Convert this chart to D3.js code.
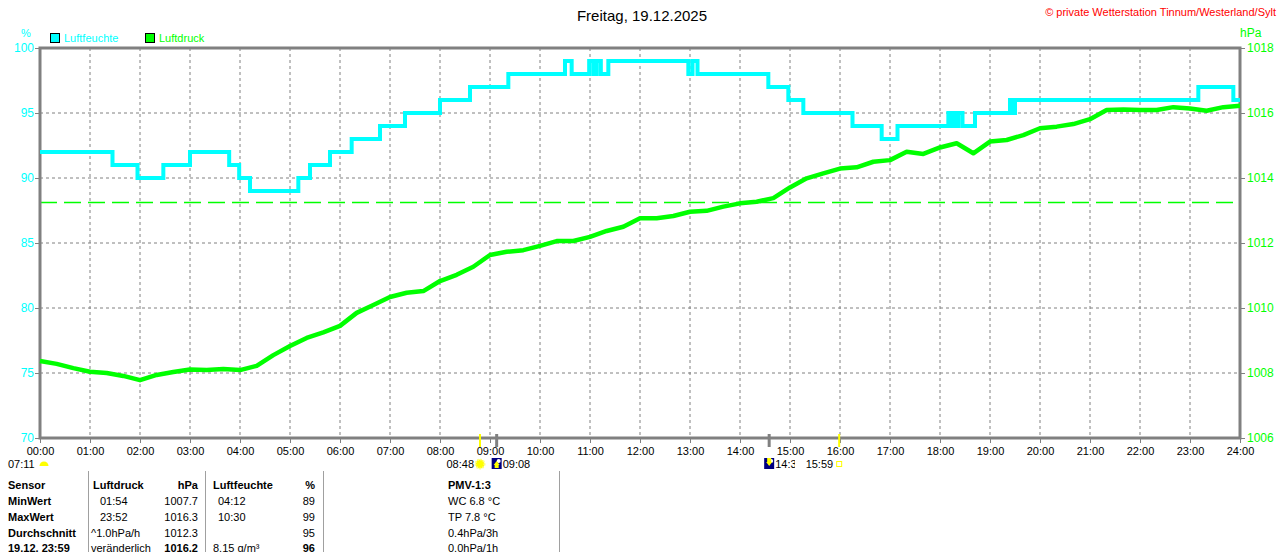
<!DOCTYPE html>
<html>
<head>
<meta charset="utf-8">
<script src="https://cdn.jsdelivr.net/npm/d3@7"></script>
<style>
  body { margin: 0; background: #fff; }
  svg { display: block; font-family: "Liberation Sans", Arial, sans-serif; }
  .grid line { stroke: #808080; stroke-dasharray: 3,3; }
  .axis path, .axis line { stroke: #808080; }
  .axis text { font-size: 12px; }
  .xAxis text { fill: #000; font-size: 11px; }
  .tbl { font-size: 11px; fill: #000; }
  .b { font-weight: bold; }
</style>
</head>
<body>
<div id="chart"></div>
<script>
// Luftfeuchte (%), step changes: [minute of day, value]
var humSteps = [
  [0, 92], [87, 91], [117, 90], [148, 91], [180, 92], [227, 91], [239, 90],
  [252, 89], [310, 90], [324, 91], [348, 92], [374, 93], [408, 94], [438, 95],
  [480, 96], [516, 97], [562, 98], [630, 99], [638, 98], [659, 99], [664, 98],
  [668, 99], [673, 98], [682, 99], [778, 98], [783, 99], [789, 98], [874, 97],
  [898, 96], [916, 95], [975, 94], [1010, 93], [1029, 94], [1090, 95], [1093, 94],
  [1096, 95], [1099, 94], [1102, 95], [1107, 94], [1122, 95], [1164, 96],
  [1167, 95], [1170, 96], [1390, 97], [1432, 96], [1440, 96]
];

// Luftdruck (hPa), one value every 20 minutes from 00:00 to 24:00
var pressStep = 20;
var pressure = [
  1008.37, 1008.28, 1008.15, 1008.04, 1008.00, 1007.91, 1007.78, 1007.94, 1008.03,
  1008.11, 1008.09, 1008.12, 1008.09, 1008.22, 1008.55, 1008.83, 1009.08, 1009.25,
  1009.45, 1009.85, 1010.09, 1010.34, 1010.47, 1010.52, 1010.83, 1011.02, 1011.27,
  1011.63, 1011.73, 1011.78, 1011.91, 1012.06, 1012.06, 1012.19, 1012.37, 1012.50,
  1012.76, 1012.76, 1012.83, 1012.96, 1012.99, 1013.12, 1013.22, 1013.27, 1013.38,
  1013.71, 1013.99, 1014.14, 1014.29, 1014.33, 1014.50, 1014.55, 1014.81, 1014.74,
  1014.94, 1015.07, 1014.76, 1015.12, 1015.17, 1015.32, 1015.53, 1015.58, 1015.66,
  1015.81, 1016.09, 1016.11, 1016.09, 1016.09, 1016.18, 1016.14, 1016.07, 1016.18,
  1016.22
];
var normPressure = 1013.25;

var xTicks = d3.range(0, 25);
var humTicks = [70, 75, 80, 85, 90, 95, 100];
var pressTicks = [1006, 1008, 1010, 1012, 1014, 1016, 1018];

// markers below the time axis: [minute, label, kind]
var sunMarks = [[528, "08:48", "sun"], [959, "15:59", "sunset"]];
var moonMarks = [[548, "09:08", "rise"], [875, "14:35", "set"]];

var tableRows = [
  ["Sensor", "Luftdruck", "hPa", "Luftfeuchte", "%"],
  ["MinWert", "01:54", "1007.7", "04:12", "89"],
  ["MaxWert", "23:52", "1016.3", "10:30", "99"],
  ["Durchschnitt", "^1.0hPa/h", "1012.3", "", "95"],
  ["19.12. 23:59", "veränderlich", "1016.2", "8.15 g/m³", "96"]
];
var pmvRows = ["PMV-1:3", "WC 6.8 °C", "TP 7.8 °C", "0.4hPa/3h", "0.0hPa/1h"];

var width = 1280, height = 552;
var plotLeft = 40, plotRight = 1240, plotTop = 48, plotBottom = 438;

var svg = d3.select("#chart").append("svg")
  .attr("width", width).attr("height", height);

var xScale = d3.scaleLinear().domain([0, 1440]).range([plotLeft, plotRight]);
var yHum = d3.scaleLinear().domain([70, 100]).range([plotBottom, plotTop]);
var yPress = d3.scaleLinear().domain([1006, 1018]).range([plotBottom, plotTop]);

// grid
var grid = svg.append("g").attr("class", "grid");
grid.selectAll("line.v").data(xTicks.slice(1, -1)).enter().append("line")
  .attr("x1", function(d) { return xScale(d * 60); })
  .attr("x2", function(d) { return xScale(d * 60); })
  .attr("y1", plotTop).attr("y2", plotBottom);
grid.selectAll("line.h").data(humTicks.slice(1, -1)).enter().append("line")
  .attr("x1", plotLeft).attr("x2", plotRight)
  .attr("y1", function(d) { return yHum(d); })
  .attr("y2", function(d) { return yHum(d); });

// norm pressure line
svg.append("line")
  .attr("x1", plotLeft).attr("x2", plotRight)
  .attr("y1", yPress(normPressure)).attr("y2", yPress(normPressure))
  .attr("stroke", "#00ff00").attr("stroke-width", 1.5)
  .attr("stroke-dasharray", "17,7");

// axes
var yAxisL = d3.axisLeft(yHum).tickValues(humTicks).tickSize(5).tickSizeOuter(0);
svg.append("g").attr("class", "axis").attr("transform", "translate(" + plotLeft + ",0)")
  .call(yAxisL)
  .call(function(g) { g.select(".domain").remove(); })
  .selectAll("text").attr("fill", "#00ffff").attr("x", -6);

var yAxisR = d3.axisRight(yPress).tickValues(pressTicks).tickSize(5).tickSizeOuter(0)
  .tickFormat(d3.format("d"));
svg.append("g").attr("class", "axis").attr("transform", "translate(" + plotRight + ",0)")
  .call(yAxisR)
  .call(function(g) { g.select(".domain").remove(); })
  .selectAll("text").attr("fill", "#00ff00").attr("x", 7);

var xAxis = d3.axisBottom(xScale).tickValues(xTicks.map(function(d) { return d * 60; }))
  .tickSize(5).tickSizeOuter(0)
  .tickFormat(function(d) { return d3.format("02")(d / 60) + ":00"; });
svg.append("g").attr("class", "axis xAxis").attr("transform", "translate(0," + plotBottom + ")")
  .call(xAxis)
  .call(function(g) { g.select(".domain").remove(); })
  .selectAll("text").attr("y", 9);

// frame
svg.append("rect")
  .attr("x", plotLeft).attr("y", plotTop)
  .attr("width", plotRight - plotLeft).attr("height", plotBottom - plotTop)
  .attr("fill", "none").attr("stroke", "#808080").attr("stroke-width", 3);

// humidity steps
var humLine = d3.line()
  .x(function(d) { return xScale(d[0]); })
  .y(function(d) { return yHum(d[1]); })
  .curve(d3.curveStepAfter);
svg.append("path").datum(humSteps)
  .attr("d", humLine)
  .attr("fill", "none").attr("stroke", "#00ffff").attr("stroke-width", 4);

// pressure
var pressLine = d3.line()
  .x(function(d, i) { return xScale(i * pressStep); })
  .y(function(d) { return yPress(d); });
svg.append("path").datum(pressure)
  .attr("d", pressLine)
  .attr("fill", "none").attr("stroke", "#00ff00").attr("stroke-width", 4.5)
  .attr("stroke-linejoin", "round");

// titles and units
svg.append("text").attr("x", 642).attr("y", 21).attr("text-anchor", "middle")
  .attr("font-size", 15).attr("fill", "#000").text("Freitag, 19.12.2025");
svg.append("text").attr("x", 1276).attr("y", 16).attr("text-anchor", "end")
  .attr("font-size", 11).attr("fill", "#ff0000")
  .text("© private Wetterstation Tinnum/Westerland/Sylt");
svg.append("text").attr("x", 26).attr("y", 37).attr("text-anchor", "middle")
  .attr("font-size", 11).attr("fill", "#00ffff").text("%");
svg.append("text").attr("x", 1240).attr("y", 37)
  .attr("font-size", 12).attr("fill", "#00ff00").text("hPa");

// legend
var legend = [["Luftfeuchte", "#00ffff", 50], ["Luftdruck", "#00ff00", 145]];
legend.forEach(function(l) {
  svg.append("rect").attr("x", l[2] + 0.5).attr("y", 33.5).attr("width", 9).attr("height", 9)
    .attr("fill", l[1]).attr("stroke", "#000");
  svg.append("text").attr("x", l[2] + 14).attr("y", 42).attr("font-size", 11)
    .attr("fill", l[1]).text(l[0]);
});

// sun / moon markers
svg.append("text").attr("x", 8).attr("y", 468).attr("font-size", 11).text("07:11");
svg.append("path").attr("d", d3.arc()({innerRadius: 0, outerRadius: 4.5, startAngle: -Math.PI / 2, endAngle: Math.PI / 2}))
  .attr("transform", "translate(44,466)").attr("fill", "#ffff00");

sunMarks.forEach(function(m) {
  var mx = xScale(m[0]);
  svg.append("line").attr("x1", mx).attr("x2", mx).attr("y1", 434).attr("y2", 447)
    .attr("stroke", "#ffff00").attr("stroke-width", 2);
  if (m[2] === "sun") {
    svg.append("text").attr("x", mx - 6).attr("y", 468).attr("text-anchor", "end")
      .attr("font-size", 11).text(m[1]);
    svg.append("circle").attr("cx", mx).attr("cy", 464).attr("r", 4.5).attr("fill", "#ffff00")
      .attr("stroke", "#ffff80").attr("stroke-width", 2).attr("stroke-dasharray", "1.5,1.5");
  } else {
    svg.append("rect").attr("x", mx - 2.5).attr("y", 461.5).attr("width", 5).attr("height", 5)
      .attr("fill", "none").attr("stroke", "#ffff00");
  }
});

moonMarks.forEach(function(m) {
  var mx = xScale(m[0]);
  svg.append("line").attr("x1", mx).attr("x2", mx).attr("y1", 434).attr("y2", 447)
    .attr("stroke", "#808080").attr("stroke-width", 3);
  svg.append("rect").attr("x", mx - 5).attr("y", 458).attr("width", 10).attr("height", 11)
    .attr("fill", "#000080");
  svg.append("circle").attr("cx", mx + 2).attr("cy", 461).attr("r", 2).attr("fill", "#fff");
  var arrow = m[2] === "rise" ? "M-2,468 L2,468 L2,465 L3,465 L0,461 L-3,465 L-2,465 Z"
                              : "M-2,458 L2,458 L2,462 L3,462 L0,466 L-3,462 L-2,462 Z";
  svg.append("path").attr("d", arrow).attr("transform", "translate(" + mx + ",0)").attr("fill", "#ffff00");
  svg.append("text").attr("x", mx + 6).attr("y", 468).attr("font-size", 11).text(m[1]);
});
// label of sunset covers the clipped moonset time
svg.append("rect").attr("x", 795).attr("y", 456).attr("width", 40).attr("height", 14).attr("fill", "#fff");
svg.append("text").attr("x", xScale(sunMarks[1][0]) - 6).attr("y", 468).attr("text-anchor", "end")
  .attr("font-size", 11).text(sunMarks[1][1]);

// table
[88, 205, 323, 559].forEach(function(x) {
  svg.append("line").attr("x1", x + 0.5).attr("x2", x + 0.5).attr("y1", 471).attr("y2", 552)
    .attr("stroke", "#a0a0a0");
});
var rowY = [489, 505, 521, 537, 552];
tableRows.forEach(function(r, i) {
  var head = i === 0;
  var last = i === 4;
  svg.append("text").attr("class", "tbl b").attr("x", 8).attr("y", rowY[i]).text(r[0]);
  svg.append("text").attr("class", "tbl" + (head ? " b" : ""))
    .attr("x", head ? 93 : (i === 3 || last ? 91 : 100)).attr("y", rowY[i]).text(r[1]);
  svg.append("text").attr("class", "tbl" + (head || last ? " b" : ""))
    .attr("x", 198).attr("y", rowY[i]).attr("text-anchor", "end").text(r[2]);
  svg.append("text").attr("class", "tbl" + (head ? " b" : ""))
    .attr("x", head || last ? 213 : 218).attr("y", rowY[i]).text(r[3]);
  svg.append("text").attr("class", "tbl" + (head || last ? " b" : ""))
    .attr("x", 315).attr("y", rowY[i]).attr("text-anchor", "end").text(r[4]);
});
pmvRows.forEach(function(t, i) {
  svg.append("text").attr("class", "tbl" + (i === 0 ? " b" : ""))
    .attr("x", 448).attr("y", rowY[i]).text(t);
});
</script>
</body>
</html>
